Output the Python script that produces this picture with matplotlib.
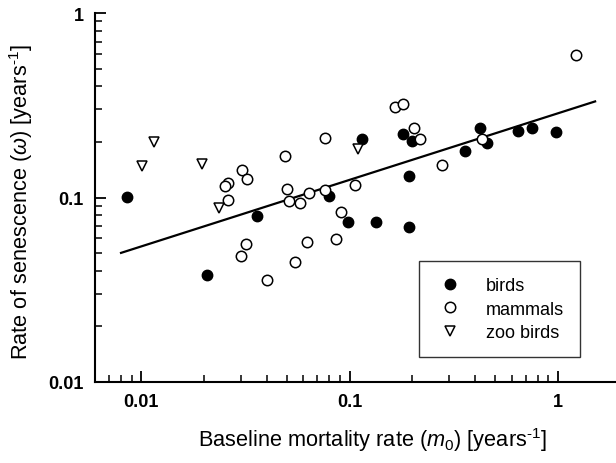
import matplotlib
matplotlib.use("Agg")
import matplotlib.pyplot as plt
from matplotlib.ticker import LogLocator, FixedLocator, FixedFormatter, NullFormatter

plt.rcParams['font.family'] = ['Liberation Sans', 'DejaVu Sans']
plt.rcParams['mathtext.fontset'] = 'custom'
plt.rcParams['mathtext.rm'] = 'Liberation Sans'
plt.rcParams['mathtext.it'] = 'Liberation Sans:italic'

# ---- data ----
birds_x = [0.00854, 0.0206, 0.0361, 0.0798, 0.0979, 0.1149, 0.1341, 0.1814, 0.1938,
           0.1991, 0.1932, 0.3586, 0.4233, 0.4549, 0.6465, 0.7477, 0.9836]
birds_y = [0.1003, 0.0380, 0.0791, 0.1015, 0.0737, 0.2075, 0.0737, 0.222, 0.131,
           0.203, 0.0688, 0.179, 0.237, 0.198, 0.230, 0.237, 0.227]

mammals_x = [0.0488, 0.0304, 0.0322, 0.0262, 0.0252, 0.0262, 0.0500, 0.0513, 0.0579,
             0.0642, 0.0764, 0.1064, 0.0764, 0.1655, 0.1814, 0.2042, 0.2174, 0.2774,
             0.4313, 1.2226, 0.0908, 0.0319, 0.0301, 0.0401, 0.0550, 0.0628, 0.0862]
mammals_y = [0.168, 0.1416, 0.1253, 0.1197, 0.1148, 0.0964, 0.1106, 0.0953, 0.0929,
             0.1053, 0.1104, 0.1170, 0.2096, 0.3084, 0.3214, 0.2377, 0.2077, 0.1502,
             0.2077, 0.5923, 0.0832, 0.0558, 0.0481, 0.0359, 0.0448, 0.0575, 0.0593]

zoo_x = [0.01154, 0.01011, 0.01956, 0.02367, 0.1103]
zoo_y = [0.1993, 0.1483, 0.152, 0.0882, 0.1834]

fit_x = [0.0080, 1.509]
fit_y = [0.0501, 0.3317]

xticks = [0.01, 0.1, 1]
xtick_labels = ['0.01', '0.1', '1']
yticks = [0.01, 0.1, 1]
ytick_labels = ['0.01', '0.1', '1']

# ---- figure ----
W, H = 616, 464
fig = plt.figure(figsize=(W / 100, H / 100), dpi=100)
left, right, top, bottom = 95, 620.6, 14, 383
ax = fig.add_axes([left / W, 1 - bottom / H, (right - left) / W, (bottom - top) / H])
ax.set_xscale('log')
ax.set_yscale('log')
ax.set_xlim(0.006, 2)
ax.set_ylim(0.01, 1)

ax.plot(fit_x, fit_y, color='black', lw=1.6, zorder=2)
ms = 7.5
ax.plot(birds_x, birds_y, 'o', ls='none', color='black', ms=ms, mec='black', label='birds', zorder=3)
ax.plot(mammals_x, mammals_y, 'o', ls='none', mfc='white', mec='black', mew=1.1, ms=ms,
        label='mammals', zorder=3)
ax.plot(zoo_x, zoo_y, 'v', ls='none', mfc='white', mec='black', mew=1.1, ms=ms,
        label='zoo birds', zorder=3)

for s in ['top', 'right']:
    ax.spines[s].set_visible(False)
for s in ['left', 'bottom']:
    ax.spines[s].set_linewidth(1.5)

ax.xaxis.set_major_locator(FixedLocator(xticks))
ax.xaxis.set_major_formatter(FixedFormatter(xtick_labels))
ax.yaxis.set_major_locator(FixedLocator(yticks))
ax.yaxis.set_major_formatter(FixedFormatter(ytick_labels))
ax.xaxis.set_minor_locator(LogLocator(base=10, subs=range(2, 10)))
ax.yaxis.set_minor_locator(LogLocator(base=10, subs=range(2, 10)))
ax.xaxis.set_minor_formatter(NullFormatter())
ax.yaxis.set_minor_formatter(NullFormatter())
ax.tick_params(which='major', direction='in', length=8, width=1.3, labelsize=13, pad=8)
ax.tick_params(which='minor', direction='in', length=5, width=1.1)
for lab in ax.get_xticklabels() + ax.get_yticklabels():
    lab.set_fontweight('bold')

ax.set_xlabel(r'Baseline mortality rate ($\mathit{m}_0$) [years$^{\text{-1}}$]', fontsize=15.7, va='center')
ax.set_ylabel(r'Rate of senescence ($\mathit{\omega}$) [years$^{\text{-1}}$]', fontsize=15.7, va='center')
ax.xaxis.set_label_coords((373 - left) / (right - left), -(440 - bottom) / (bottom - top))
ax.yaxis.set_label_coords(-(left - 21) / (right - left), 0.49)

leg = ax.legend(loc='upper left',
                bbox_to_anchor=((419 - left) / (right - left), (bottom - 262) / (bottom - top)),
                frameon=True, fancybox=False, fontsize=13, handletextpad=1.2,
                borderpad=0.9, labelspacing=0.35, handlelength=1.6, borderaxespad=0)
leg.get_frame().set_edgecolor('black')
leg.get_frame().set_linewidth(1.0)

fig.savefig('out.png', dpi=100)
